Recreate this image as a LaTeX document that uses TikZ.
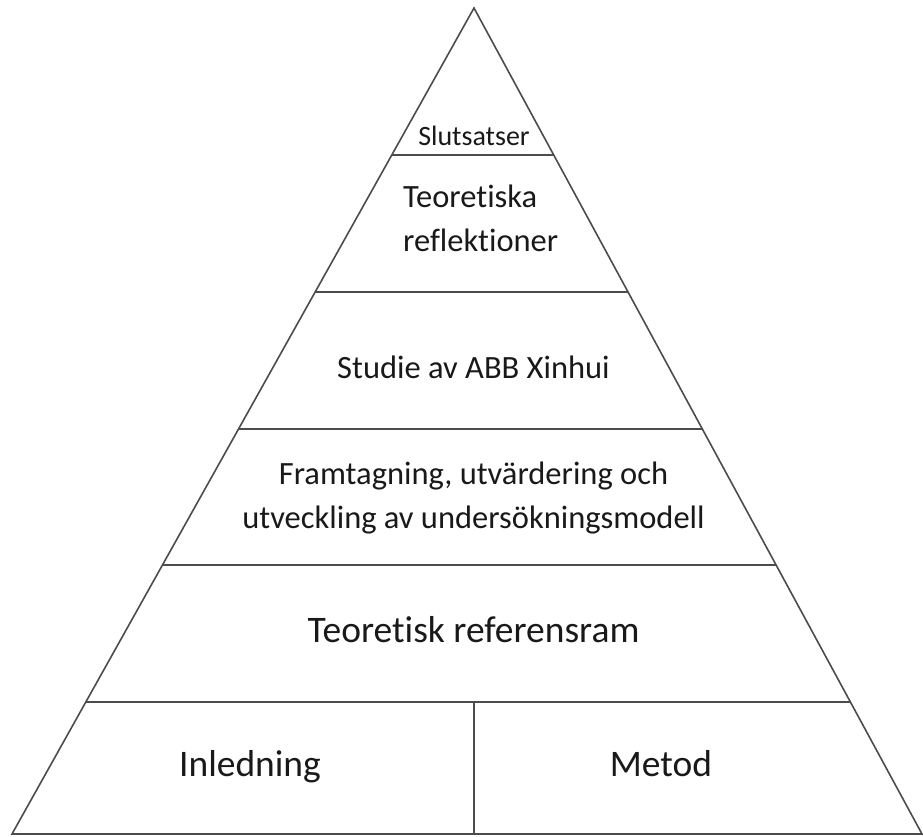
\documentclass[tikz,border=0pt]{standalone}
\usepackage{fontspec}
\setmainfont{Carlito}[Ligatures={NoCommon}]
\usetikzlibrary{calc}
\begin{document}
\begin{tikzpicture}[x=1pt,y=-1pt,
  edge/.style={line width=1.6pt, draw=black!70, line join=miter},
  tier/.style={text=black!90, inner sep=0pt},
  small/.style={font=\fontsize{28}{34}\selectfont},
  mid/.style={font=\fontsize{32.5}{43.5}\selectfont},
  big/.style={font=\fontsize{37.5}{45}\selectfont}]
\useasboundingbox (0,0) rectangle (923,836);
% corners of the pyramid
\coordinate (apex) at (474,8);
\coordinate (bl) at (12,834);
\coordinate (br) at (922,834);
% ends of the tier boundaries on the two slanted edges
\foreach \n/\t in {1/0.1780,2/0.3438,3/0.5097,4/0.6743,5/0.8402}{
  \coordinate (l\n) at ($(apex)!\t!(bl)$);
  \coordinate (r\n) at ($(apex)!\t!(br)$);
}
\coordinate (divtop) at (apex |- l5);
\coordinate (divbot) at (apex |- bl);
% outline, tier boundaries and the split of the base tier
\draw[edge] (apex) -- (bl) -- (br) -- cycle;
\foreach \n in {1,...,5} \draw[edge] (l\n) -- (r\n);
\draw[edge] (divtop) -- (divbot);
% tier labels (multi-line nodes sit on the baseline of their last line)
\node[tier,small,anchor=base] (slut) at (474,145) {Slutsatser};
\node[tier,mid,anchor=base west,align=left] (teorefl) at (403,251) {Teoretiska\\reflektioner};
\node[tier,mid,anchor=base] (studie) at (473.5,378) {Studie av ABB Xinhui};
\node[tier,mid,anchor=base,align=center] (framt) at (473.5,528) {Framtagning, utvärdering och\\utveckling av undersökningsmodell};
\node[tier,big,anchor=base] (teoref) at (473.5,642) {Teoretisk referensram};
\node[tier,big,anchor=base] (inled) at (250,776) {Inledning};
\node[tier,big,anchor=base] (metod) at (661,776) {Metod};
\end{tikzpicture}
\end{document}
